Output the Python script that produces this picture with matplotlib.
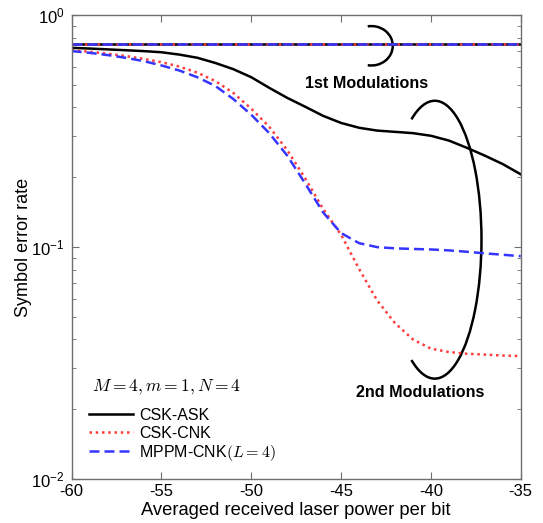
import numpy as np
import matplotlib
matplotlib.use("Agg")
from matplotlib import pyplot as plt
from matplotlib.patches import Arc

plt.rcParams['font.family'] = ['Liberation Sans', 'DejaVu Sans']
plt.rcParams['mathtext.fontset'] = 'cm'
plt.rcParams['axes.unicode_minus'] = False

# data
power = [-60, -59, -58, -57, -56, -55, -54, -53, -52, -51, -50, -49, -48,
         -47, -46, -45, -44, -43, -42, -41, -40, -39, -38, -37, -36, -35]
ser_ask = [0.723, 0.718, 0.712, 0.706, 0.700, 0.692, 0.676, 0.655, 0.622,
           0.585, 0.540, 0.486, 0.440, 0.403, 0.368, 0.343, 0.327, 0.318,
           0.314, 0.310, 0.302, 0.288, 0.268, 0.248, 0.228, 0.206]
ser_cnk = [0.706, 0.695, 0.682, 0.667, 0.648, 0.627, 0.600, 0.565, 0.520,
           0.462, 0.395, 0.330, 0.262, 0.198, 0.146, 0.113, 0.0805, 0.059,
           0.047, 0.040, 0.0365, 0.0353, 0.0347, 0.0344, 0.0341, 0.0339]
ser_mppm = [0.700, 0.688, 0.673, 0.655, 0.634, 0.607, 0.577, 0.540, 0.495,
            0.435, 0.372, 0.310, 0.248, 0.188, 0.141, 0.115, 0.104, 0.100,
            0.0988, 0.0982, 0.0977, 0.0968, 0.0955, 0.094, 0.0927, 0.0914]
first_x = [-60, -35]
first_ask = [0.748, 0.748]
first_cnk = [0.748, 0.748]
first_mppm = [0.748, 0.748]

labels = ['CSK-ASK', 'CSK-CNK', r'MPPM-CNK$(L=4)$']
red = '#ff3b3b'
blue = '#3535ff'

fig = plt.figure(figsize=(5.43, 5.23), dpi=100)
ax = fig.add_axes([0.132, 0.084, 0.827, 0.887])

# 1st modulations (flat)
ax.plot(first_x, first_ask, color='k', lw=1.8)
ax.plot(first_x, first_cnk, color=red, lw=1.8, ls=(0, (1, 1.5)))
ax.plot(first_x, first_mppm, color=blue, lw=1.8, ls=(0, (4, 2)))

# 2nd modulations
ax.plot(power, ser_ask, color='k', lw=1.8, label=labels[0])
ax.plot(power, ser_cnk, color=red, lw=1.8, ls=(0, (1, 1.5)), label=labels[1])
ax.plot(power, ser_mppm, color=blue, lw=1.8, ls=(0, (4, 2)), label=labels[2])

ax.set_yscale('log')
ax.set_xlim(-60, -35)
ax.set_ylim(1e-2, 1e0)
ax.set_xticks([-60, -55, -50, -45, -40, -35])
ax.tick_params(which='both', direction='in', top=True, right=True,
               labelsize=12, colors='k')
ax.tick_params(which='major', length=5)
ax.tick_params(which='minor', length=3)
ax.tick_params(axis='y', pad=5)
for s in ax.spines.values():
    s.set_color('#6e6e6e')
    s.set_linewidth(1.0)
ax.tick_params(which='both', color='#6e6e6e')

ax.set_xlabel('Averaged received laser power per bit', fontsize=13.2, labelpad=2)
ax.set_ylabel('Symbol error rate', fontsize=13)
ax.yaxis.set_label_coords(-0.088, 0.5)


def open_arc(cx, cy, w, h, half_angle):
    # half_angle is the parametric angle; Arc wants the geometric one
    t = np.degrees(np.arctan2(h * np.sin(np.radians(half_angle)),
                              w * np.cos(np.radians(half_angle))))
    return Arc((cx, cy), w, h, theta1=-t, theta2=t,
               transform=ax.transAxes, color='k', lw=1.8)


ax.add_patch(open_arc(0.6675, 0.934, 0.095, 0.085, 100))
ax.add_patch(open_arc(0.8086, 0.516, 0.208, 0.599, 120))
ax.text(0.657, 0.852, '1st Modulations', transform=ax.transAxes,
        fontsize=11.6, fontweight='bold', ha='center', va='center')
ax.text(0.775, 0.186, '2nd Modulations', transform=ax.transAxes,
        fontsize=11.6, fontweight='bold', ha='center', va='center')

ax.text(0.0445, 0.1976, r'$M=4, m=1, N=4$', transform=ax.transAxes,
        fontsize=12.6, ha='left', va='center')
ax.legend(loc='lower left', bbox_to_anchor=(0.0385, 0.0345), frameon=False,
          fontsize=11.5, handlelength=2.75, handletextpad=0.375,
          labelspacing=0.16, borderpad=0, borderaxespad=0)

fig.savefig('out.png', dpi=100)
